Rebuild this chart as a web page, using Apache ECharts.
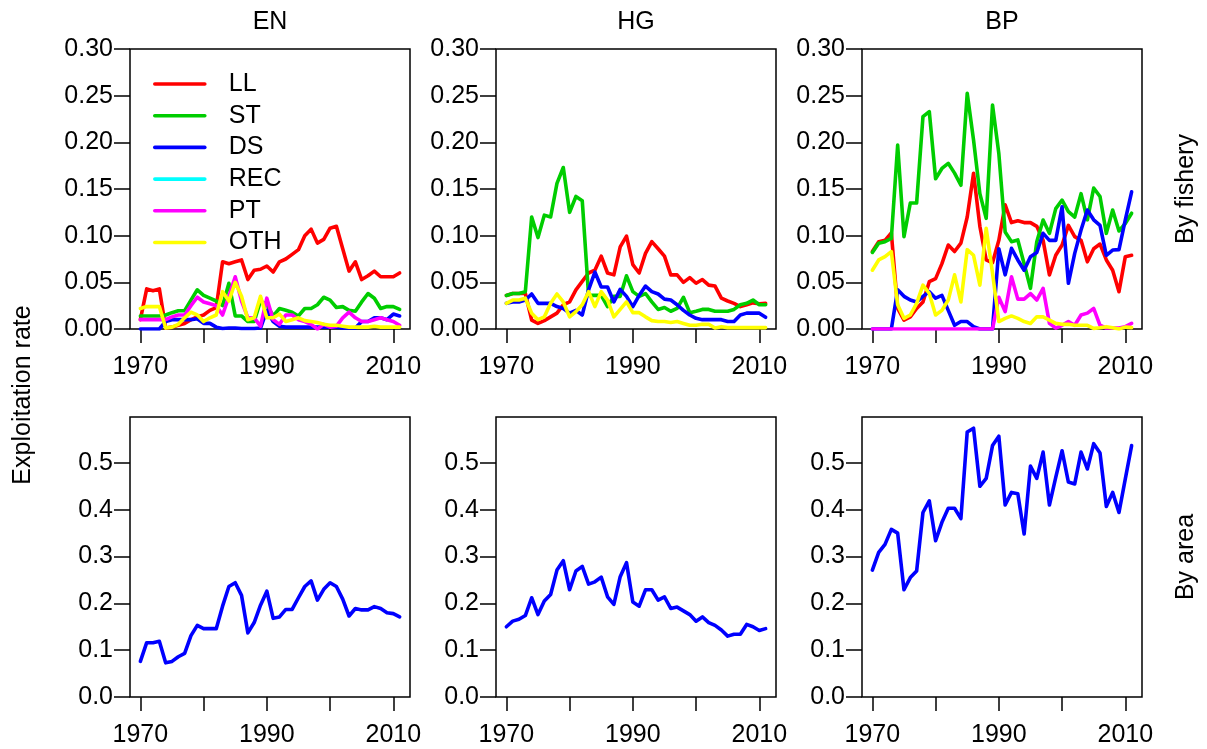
<!DOCTYPE html>
<html><head><meta charset="utf-8">
<script src="https://cdn.jsdelivr.net/npm/echarts@6/dist/echarts.min.js"></script>
<style>html,body{margin:0;padding:0;background:#fff}#c{width:1207px;height:749px}</style>
</head><body><div id="c"></div>
<script>
const years = [1970,1971,1972,1973,1974,1975,1976,1977,1978,1979,1980,1981,1982,1983,1984,1985,1986,1987,1988,1989,1990,1991,1992,1993,1994,1995,1996,1997,1998,1999,2000,2001,2002,2003,2004,2005,2006,2007,2008,2009,2010,2011];
const fisheries = ['LL','ST','DS','REC','PT','OTH'];
const areas = ['EN','HG','BP'];
const rowLabels = ['By fishery','By area'];
const yTitle = 'Exploitation rate';
const topYTicks = [0,0.05,0.10,0.15,0.20,0.25,0.30];
const bottomYTicks = [0,0.1,0.2,0.3,0.4,0.5];
const xTicks = [1970,1980,1990,2000,2010];
const xLabels = [1970,1990,2010];

// By fishery, EN
const EN_LL = [0.010,0.043,0.041,0.043,0.001,0.002,0.004,0.006,0.010,0.013,0.015,0.020,0.023,0.072,0.070,0.072,0.074,0.053,0.063,0.064,0.0675,0.061,0.072,0.075,0.080,0.085,0.100,0.107,0.092,0.096,0.108,0.110,0.086,0.062,0.072,0.053,0.057,0.062,0.056,0.056,0.056,0.060];
const EN_ST = [0.014,0.014,0.014,0.014,0.015,0.0175,0.0196,0.0196,0.031,0.042,0.036,0.033,0.030,0.025,0.049,0.014,0.014,0.008,0.008,0.030,0.026,0.014,0.022,0.020,0.018,0.014,0.022,0.022,0.026,0.034,0.031,0.023,0.024,0.020,0.019,0.029,0.038,0.033,0.022,0.024,0.024,0.021];
const EN_DS = [0,0,0,0,0.008,0.010,0.010,0.010,0.010,0.011,0.006,0.006,0.002,0.0005,0.001,0.001,0.0005,0.0005,0.0005,0.001,0.020,0.008,0.003,0.002,0.002,0.002,0.002,0.002,0.002,0.002,0.002,0.002,0.001,0.001,0.001,0.008,0.008,0.012,0.012,0.010,0.016,0.014];
const EN_REC = [];
const EN_PT = [0.010,0.010,0.010,0.010,0.010,0.013,0.015,0.015,0.025,0.034,0.029,0.027,0.025,0.015,0.035,0.056,0.030,0.012,0.012,0.003,0.033,0.010,0.005,0.015,0.015,0.010,0.008,0.005,0.000,0.005,0.002,0.003,0.012,0.018,0.012,0.008,0.008,0.010,0.012,0.010,0.008,0.004];
const EN_OTH = [0.022,0.024,0.024,0.024,0.001,0.002,0.005,0.012,0.018,0.015,0.008,0.012,0.015,0.040,0.030,0.050,0.035,0.010,0.012,0.035,0.012,0.012,0.016,0.008,0.010,0.012,0.009,0.008,0.007,0.005,0.004,0.004,0.003,0.002,0.002,0.002,0.002,0.003,0.002,0.002,0.002,0.002];

// By fishery, HG
const HG_LL = [0.036,0.038,0.038,0.038,0.0096,0.006,0.009,0.013,0.017,0.026,0.029,0.042,0.051,0.060,0.063,0.078,0.060,0.058,0.088,0.0996,0.069,0.060,0.081,0.0936,0.086,0.078,0.058,0.058,0.050,0.055,0.049,0.053,0.047,0.046,0.033,0.030,0.0275,0.024,0.026,0.028,0.027,0.0275];
const HG_ST = [0.036,0.038,0.038,0.040,0.120,0.098,0.122,0.120,0.156,0.173,0.125,0.142,0.1375,0.036,0.036,0.036,0.024,0.035,0.035,0.057,0.040,0.035,0.038,0.029,0.021,0.023,0.019,0.022,0.034,0.0175,0.019,0.021,0.021,0.019,0.019,0.019,0.021,0.026,0.0275,0.031,0.026,0.026];
const HG_DS = [0.0275,0.029,0.029,0.031,0.0375,0.0275,0.0275,0.0275,0.024,0.022,0.017,0.020,0.015,0.042,0.061,0.045,0.045,0.029,0.0425,0.035,0.024,0.036,0.046,0.040,0.0375,0.032,0.031,0.026,0.020,0.015,0.0114,0.010,0.010,0.010,0.010,0.008,0.008,0.015,0.017,0.017,0.017,0.0125];
const HG_REC = [];
const HG_PT = [];
const HG_OTH = [0.0275,0.031,0.031,0.033,0.017,0.010,0.013,0.0275,0.0375,0.029,0.013,0.0186,0.026,0.040,0.024,0.040,0.031,0.013,0.021,0.029,0.0175,0.0175,0.013,0.009,0.008,0.008,0.007,0.008,0.006,0.004,0.004,0.005,0.005,0.001,0.0025,0.0015,0.0015,0.0015,0.0015,0.0015,0.0015,0.0015];

// By fishery, BP
const BP_LL = [0.083,0.0936,0.095,0.103,0.022,0.0096,0.013,0.022,0.029,0.0507,0.054,0.070,0.090,0.083,0.092,0.120,0.1668,0.110,0.074,0.071,0.095,0.133,0.114,0.116,0.114,0.114,0.110,0.095,0.058,0.079,0.090,0.111,0.099,0.095,0.072,0.086,0.091,0.074,0.063,0.040,0.0775,0.079];
const BP_ST = [0.082,0.092,0.0936,0.097,0.197,0.099,0.135,0.135,0.2275,0.233,0.161,0.172,0.1775,0.167,0.154,0.2525,0.2025,0.145,0.1186,0.240,0.188,0.104,0.0936,0.0954,0.070,0.0436,0.0936,0.1168,0.1025,0.129,0.138,0.1257,0.120,0.145,0.117,0.151,0.142,0.1025,0.1275,0.105,0.113,0.124];
const BP_DS = [0,0,0,0,0.042,0.035,0.031,0.029,0.035,0.040,0.033,0.036,0.020,0.004,0.008,0.008,0.0025,0,0,0,0.086,0.058,0.0864,0.074,0.063,0.0775,0.082,0.1025,0.095,0.095,0.131,0.049,0.081,0.106,0.1275,0.117,0.111,0.079,0.0846,0.085,0.117,0.147];
const BP_REC = [];
const BP_PT = [0,0,0,0,0,0,0,0,0,0,0,0,0,0,0,0,0,0,0,0,0.034,0.0186,0.056,0.032,0.032,0.038,0.031,0.0436,0.006,0.001,0.004,0.008,0.004,0.015,0.017,0.022,0.004,0.001,0.001,0.001,0.0025,0.006];
const BP_OTH = [0.063,0.074,0.0775,0.083,0.026,0.0114,0.015,0.0275,0.047,0.038,0.015,0.020,0.031,0.058,0.029,0.085,0.079,0.047,0.108,0.060,0.008,0.0114,0.014,0.0114,0.008,0.006,0.013,0.013,0.0096,0.006,0.005,0.005,0.004,0.004,0.004,0.0007,0.0014,0.0025,0.0014,0.0,0.002,0.0015];

// By area
const EN_area = [0.076,0.116,0.116,0.119,0.073,0.076,0.086,0.093,0.131,0.153,0.146,0.146,0.146,0.194,0.236,0.244,0.217,0.137,0.159,0.196,0.226,0.168,0.171,0.187,0.187,0.212,0.236,0.248,0.207,0.230,0.244,0.236,0.209,0.173,0.189,0.186,0.186,0.193,0.189,0.180,0.178,0.171];
const HG_area = [0.150,0.162,0.166,0.174,0.212,0.176,0.205,0.219,0.271,0.291,0.229,0.269,0.279,0.241,0.246,0.256,0.214,0.198,0.257,0.287,0.203,0.194,0.229,0.229,0.207,0.214,0.189,0.192,0.184,0.176,0.162,0.171,0.159,0.153,0.143,0.130,0.134,0.134,0.155,0.150,0.142,0.146];
const BP_area = [0.271,0.309,0.326,0.358,0.350,0.229,0.255,0.269,0.394,0.419,0.334,0.373,0.403,0.403,0.381,0.566,0.574,0.450,0.467,0.537,0.557,0.410,0.437,0.434,0.348,0.493,0.467,0.523,0.410,0.469,0.526,0.459,0.455,0.523,0.487,0.541,0.521,0.407,0.437,0.394,0.466,0.537];

const fisheryData = {
  EN: {LL:EN_LL, ST:EN_ST, DS:EN_DS, REC:EN_REC, PT:EN_PT, OTH:EN_OTH},
  HG: {LL:HG_LL, ST:HG_ST, DS:HG_DS, REC:HG_REC, PT:HG_PT, OTH:HG_OTH},
  BP: {LL:BP_LL, ST:BP_ST, DS:BP_DS, REC:BP_REC, PT:BP_PT, OTH:BP_OTH}
};
const areaData = {EN: EN_area, HG: HG_area, BP: BP_area};

const colors = {LL:'#FF0000', ST:'#00CD00', DS:'#0000FF', REC:'#00FFFF', PT:'#FF00FF', OTH:'#FFFF00'};
const FONT = 'Liberation Sans, Arial, Helvetica, sans-serif';
const FS = 25;
const LW = 3.6;

const grids = [], xAxes = [], yAxes = [], series = [];
const pair = arr => arr.map((v, k) => [years[k], v]);

for (let r = 0; r < 2; r++) {
  for (let c = 0; c < 3; c++) {
    const gi = grids.length;
    grids.push({left: 130 + 366 * c, top: r === 0 ? 49 : 417, width: 280, height: 280,
      show: true, borderColor: '#000', borderWidth: 1.5, backgroundColor: 'transparent', containLabel: false});
    xAxes.push({type: 'value', gridIndex: gi, min: 1968.36, max: 2012.64,
      axisLine: {show: false}, splitLine: {show: false},
      axisTick: {show: true, customValues: xTicks, length: 14, inside: false, lineStyle: {color: '#000', width: 1.5}},
      axisLabel: {customValues: xLabels, margin: 26, fontSize: FS, color: '#000', fontFamily: FONT, formatter: v => String(v)}});
    const yt = r === 0 ? topYTicks : bottomYTicks;
    yAxes.push({type: 'value', gridIndex: gi, min: 0, max: r === 0 ? 0.30 : 0.598,
      axisLine: {show: false}, splitLine: {show: false},
      axisTick: {show: true, customValues: yt, length: 16, inside: false, lineStyle: {color: '#000', width: 1.5}},
      axisLabel: {customValues: yt, margin: 17, fontSize: FS, color: '#000', fontFamily: FONT,
        formatter: v => r === 0 ? Number(v).toFixed(2) : Number(v).toFixed(1)}});
    const area = areas[c];
    if (r === 0) {
      fisheries.forEach(f => {
        series.push({type: 'line', name: f, xAxisIndex: gi, yAxisIndex: gi, data: pair(fisheryData[area][f]),
          symbol: 'none', showSymbol: false, color: colors[f],
          lineStyle: {width: LW, color: colors[f], join: 'round', cap: 'round'}, animation: false});
      });
    } else {
      series.push({type: 'line', name: area + ' total', xAxisIndex: gi, yAxisIndex: gi, data: pair(areaData[area]),
        symbol: 'none', showSymbol: false, color: '#0000FF',
        lineStyle: {width: LW, color: '#0000FF', join: 'round', cap: 'round'}, animation: false});
    }
  }
}

const txt = (text, x, y, rot) => ({type: 'text', x: x, y: y, rotation: rot || 0,
  style: {text: text, font: FS + 'px ' + FONT, fill: '#000', textAlign: 'center', textVerticalAlign: 'middle', align: 'center', verticalAlign: 'middle'}});

const graphics = [
  txt(areas[0], 270, 22), txt(areas[1], 636, 22), txt(areas[2], 1002, 22),
  txt(rowLabels[0], 1186, 189, Math.PI / 2),
  txt(rowLabels[1], 1186, 557, Math.PI / 2),
  txt(yTitle, 23, 395, Math.PI / 2)
];

const chart = echarts.init(document.getElementById('c'), null, {renderer: 'canvas'});
chart.setOption({
  animation: false,
  backgroundColor: '#fff',
  grid: grids, xAxis: xAxes, yAxis: yAxes, series: series,
  legend: {data: fisheries, orient: 'vertical', left: 153, top: 71.5, padding: 0,
    itemWidth: 50, itemHeight: 23, itemGap: 6.7, selectedMode: false,
    itemStyle: {opacity: 0, color: 'rgba(0,0,0,0)', borderWidth: 0},
    lineStyle: {width: LW},
    textStyle: {fontSize: FS, color: '#000', fontFamily: FONT, lineHeight: 23, padding: [0, 0, 0, 19]}},
  graphic: graphics
});
</script></body></html>
